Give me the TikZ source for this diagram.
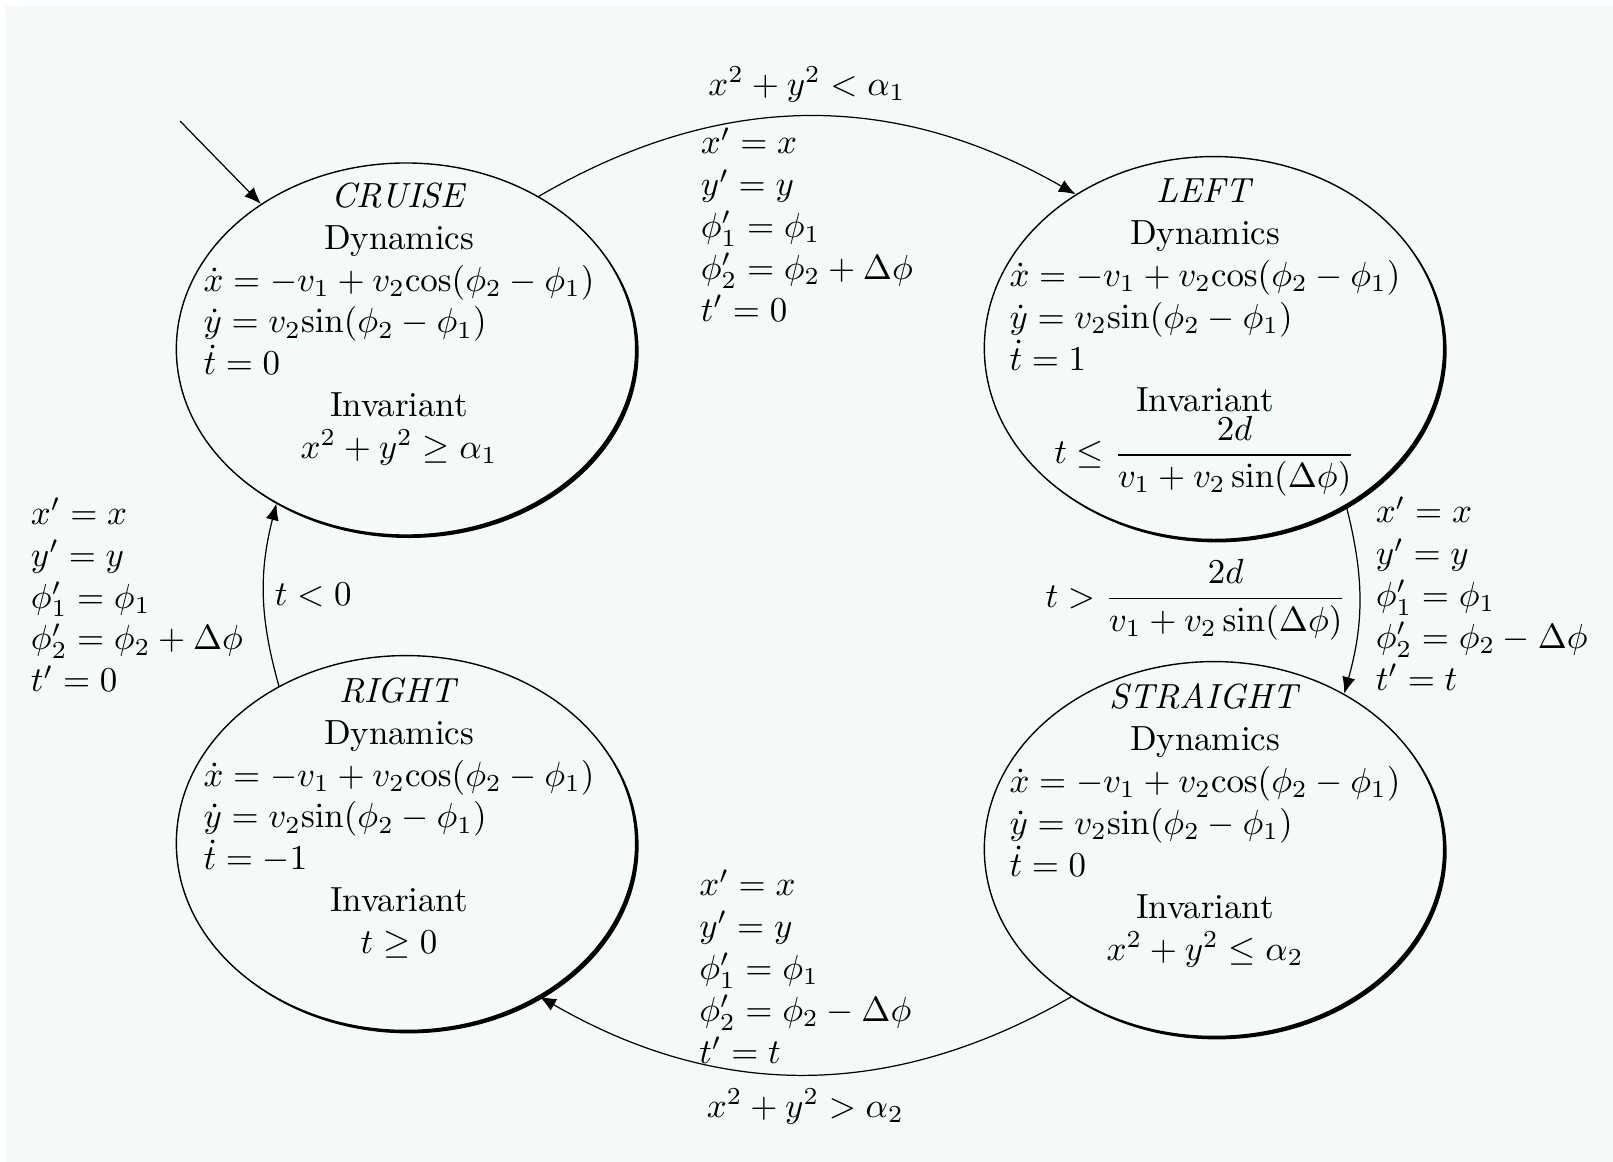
\documentclass[tikz,border=0pt]{standalone}
\usetikzlibrary{arrows.meta,shapes.geometric,shadows}
\definecolor{bg}{RGB}{245,250,247}
\newlength\eqw
\AtBeginDocument{\settowidth{\eqw}{$\dot{x} = -v_1 + v_2\mathrm{cos}(\phi_2 - \phi_1)$}}
\newcommand\eql[1]{\makebox[\eqw][l]{$#1$}}
\tikzset{
 state/.style={ellipse, draw, line width=0.4pt, fill=bg, inner sep=0pt,
   drop shadow={shadow xshift=0.85pt, shadow yshift=-0.85pt, opacity=1, fill=black}},
 stext/.style={align=center, anchor=north, inner sep=0pt},
 trans/.style={-{Latex[length=4.8pt,width=3.8pt]}, line width=0.35pt},
 lab/.style={align=left, inner sep=3pt},
}
\begin{document}
\begin{tikzpicture}[x=0.2865pt,y=-0.2865pt]
\fill[white] (0,0) rectangle (1613,1162);
\fill[bg] (5,6) rectangle (1613,1162);
\useasboundingbox (0,0) rectangle (1613,1162);

\node[state, minimum width=131.6pt, minimum height=106.6pt] (nCruise) at (406,349) {};
\node[state, minimum width=131.6pt, minimum height=109.7pt] (nLeft) at (1214,348) {};
\node[state, minimum width=131.6pt, minimum height=107.4pt] (nRight) at (406,843) {};
\node[state, minimum width=131.6pt, minimum height=107.4pt] (nStraight) at (1214,849) {};

\node[stext] (tCruise) at (399,182) {\textit{CRUISE}\\ Dynamics\\
  \eql{\dot{x} = -v_1 + v_2\mathrm{cos}(\phi_2 - \phi_1)}\\
  \eql{\dot{y} = v_2\mathrm{sin}(\phi_2 - \phi_1)}\\
  \eql{\dot{t} = 0}\\ Invariant\\ $x^2 + y^2 \geq \alpha_1$};
\node[stext] (tLeft) at (1205,178) {\textit{LEFT}\\ Dynamics\\
  \eql{\dot{x} = -v_1 + v_2\mathrm{cos}(\phi_2 - \phi_1)}\\
  \eql{\dot{y} = v_2\mathrm{sin}(\phi_2 - \phi_1)}\\
  \eql{\dot{t} = 1}\\ Invariant\\ $\displaystyle t \leq \frac{2d}{v_1 + v_2\sin(\Delta\phi)}$};
\node[stext] (tRight) at (399,677) {\textit{RIGHT}\\ Dynamics\\
  \eql{\dot{x} = -v_1 + v_2\mathrm{cos}(\phi_2 - \phi_1)}\\
  \eql{\dot{y} = v_2\mathrm{sin}(\phi_2 - \phi_1)}\\
  \eql{\dot{t} = -1}\\ Invariant\\ $t \geq 0$};
\node[stext] (tStraight) at (1205,683) {\textit{STRAIGHT}\\ Dynamics\\
  \eql{\dot{x} = -v_1 + v_2\mathrm{cos}(\phi_2 - \phi_1)}\\
  \eql{\dot{y} = v_2\mathrm{sin}(\phi_2 - \phi_1)}\\
  \eql{\dot{t} = 0}\\ Invariant\\ $x^2 + y^2 \leq \alpha_2$};

\coordinate (init) at (180,121);
\draw[trans] (init) -- (nCruise.135);

\draw[trans] (nCruise.49) to[bend left=30]
  node[pos=0.5, above, inner sep=4pt] (gTop) {$x^2 + y^2 < \alpha_1$}
  node[pos=0.5, below, lab] (rTop) {$x' = x$\\ $y' = y$\\ $\phi_1' = \phi_1$\\ $\phi_2' = \phi_2 + \Delta\phi$\\ $t' = 0$}
  (nLeft.132);

\draw[trans] (nLeft.-50.4) to[bend left=15]
  node[pos=0.5, left, inner sep=3.5pt] (gRightEdge) {$\displaystyle t > \frac{2d}{v_1 + v_2\sin(\Delta\phi)}$}
  node[pos=0.5, right, lab, inner sep=4.5pt, yshift=1.8pt] (rRightEdge) {$x' = x$\\ $y' = y$\\ $\phi_1' = \phi_1$\\ $\phi_2' = \phi_2 - \Delta\phi$\\ $t' = t$}
  (nStraight.50.8);

\draw[trans] (nStraight.226.6) to[bend left=30]
  node[pos=0.5, above, lab] (rBottom) {$x' = x$\\ $y' = y$\\ $\phi_1' = \phi_1$\\ $\phi_2' = \phi_2 - \Delta\phi$\\ $t' = t$}
  node[pos=0.5, below, inner sep=4pt] (gBottom) {$x^2 + y^2 > \alpha_2$}
  (nRight.311.8);

\draw[trans] (nRight.129.5) to[bend left=15]
  node[pos=0.5, right, inner sep=3pt] (gLeftEdge) {$t < 0$}
  node[pos=0.5, left, lab, inner sep=5.8pt] (rLeftEdge) {$x' = x$\\ $y' = y$\\ $\phi_1' = \phi_1$\\ $\phi_2' = \phi_2 + \Delta\phi$\\ $t' = 0$}
  (nCruise.230.4);
\end{tikzpicture}
\end{document}
